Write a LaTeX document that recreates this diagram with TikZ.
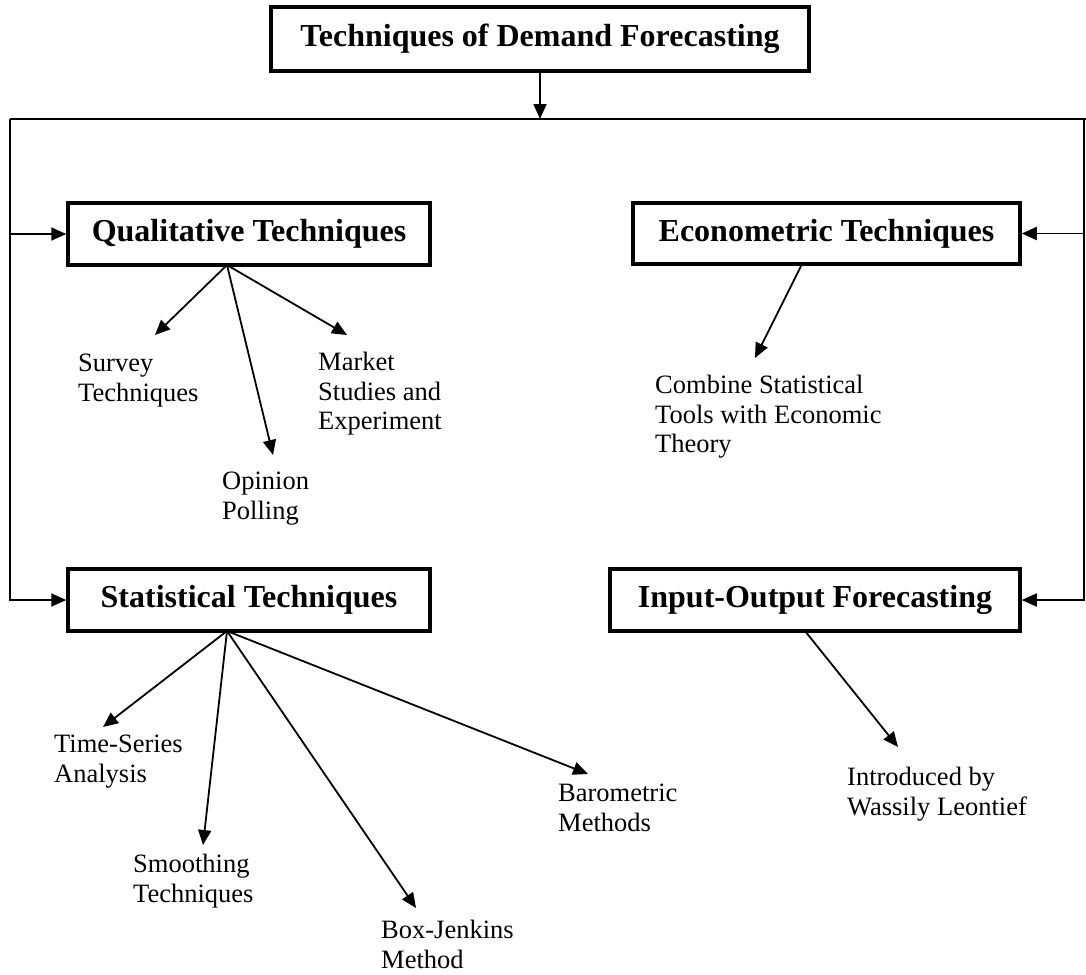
\documentclass[tikz,border=0pt]{standalone}
\usepackage{fontspec}
\setmainfont{Liberation Serif}
\usetikzlibrary{arrows.meta}
\tikzset{
  mainbox/.style={draw, line width=3.5pt, inner sep=0pt, align=center,
    font=\fontsize{32}{36}\selectfont\bfseries},
  leaf/.style={inner sep=0pt, anchor=north west, align=left,
    font=\fontsize{26.5}{29.5}\selectfont},
  conn/.style={line width=1.8pt, -{Triangle[length=15pt,width=13pt]}},
  plain/.style={line width=1.8pt}
}
\begin{document}
\begin{tikzpicture}[x=1pt,y=-1pt]
\useasboundingbox (0,0) rectangle (1086,974);
% main boxes
\node[mainbox, minimum width=538pt, minimum height=64pt] (title) at (540,39) {Techniques of Demand Forecasting};
\node[mainbox, minimum width=362pt, minimum height=62pt] (qual) at (249,234) {Qualitative Techniques};
\node[mainbox, minimum width=387pt, minimum height=61pt] (econ) at (826.5,233.5) {Econometric Techniques};
\node[mainbox, minimum width=362pt, minimum height=62pt] (stat) at (249,600) {Statistical Techniques};
\node[mainbox, minimum width=410pt, minimum height=62pt] (io) at (815,600) {Input-Output Forecasting};
% frame lines
\coordinate (split) at (540,119);
\coordinate (ltop) at (10,119);
\coordinate (rtop) at (1084,119);
\coordinate (rend) at (1086,119);
\draw[conn] (title.south) -- (split);
\draw[plain] (ltop) -- (rend);
\draw[conn] (ltop) |- (stat.west);
\draw[conn] (ltop |- qual.west) -- (qual.west);
\draw[conn] (rtop) |- (io.east);
\draw[conn] (rtop |- econ.east) -- (econ.east);
% leaves
\node[leaf] (survey) at (78,354) {Survey\\Techniques};
\node[leaf] (market) at (318,352) {Market\\Studies and\\Experiment};
\node[leaf] (opinion) at (222,472) {Opinion\\Polling};
\node[leaf] (combine) at (655,375) {Combine Statistical\\Tools with Economic\\Theory};
\node[leaf] (ts) at (54,735) {Time-Series\\Analysis};
\node[leaf] (smooth) at (133,854) {Smoothing\\Techniques};
\node[leaf] (bj) at (381,920) {Box-Jenkins\\Method};
\node[leaf] (baro) at (558,784) {Barometric\\Methods};
\node[leaf] (intro) at (847,767) {Introduced by\\Wassily Leontief};
% origins and tips
\coordinate (qo) at (227,265);
\coordinate (so) at (227,631);
\coordinate (eo) at (802,264);
\coordinate (io0) at (805,631);
\coordinate (tsurvey) at (155,335);
\coordinate (topinion) at (273,455);
\coordinate (tmarket) at (347,335);
\coordinate (tcombine) at (755,358);
\coordinate (tts) at (103,727);
\coordinate (tsmooth) at (203,845);
\coordinate (tbj) at (416,908);
\coordinate (tbaro) at (588,774);
\coordinate (tintro) at (898,747);
\draw[conn] (qo) -- (tsurvey);
\draw[conn] (qo) -- (topinion);
\draw[conn] (qo) -- (tmarket);
\draw[conn] (eo) -- (tcombine);
\draw[conn] (so) -- (tts);
\draw[conn] (so) -- (tsmooth);
\draw[conn] (so) -- (tbj);
\draw[conn] (so) -- (tbaro);
\draw[conn] (io0) -- (tintro);
\end{tikzpicture}
\end{document}
